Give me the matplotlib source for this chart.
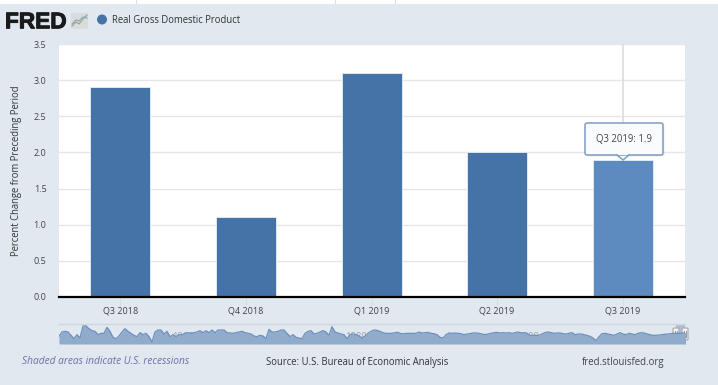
import matplotlib
matplotlib.use("Agg")
import matplotlib.pyplot as plt
import matplotlib.patheffects as pe
from matplotlib.patches import FancyBboxPatch, Polygon, Rectangle, Circle
import numpy as np

categories = ["Q3 2018", "Q4 2018", "Q1 2019", "Q2 2019", "Q3 2019"]
gdp_change = [2.9, 1.1, 3.1, 2.0, 1.9]
y_ticks = [0.0, 0.5, 1.0, 1.5, 2.0, 2.5, 3.0, 3.5]
series_name = "Real Gross Domestic Product"
y_title = "Percent Change from Preceding Period"

# overview strip (relative level, evenly spaced samples)
nav_1 = [23,36,38,36,26,16,28,18,54,54,46,40,38,28,32,32,50,38,20,16,24,36,46,38,32,26,22,34,28,32,22,6,36,42,42,30,38,22,28,22,28,28,32,34,32,34,36,40,34,40,34,42,34]
nav_2 = [42,42,42,34,33,32,34,36,38,34,32,30,24,22,26,24,16,44,36,36,38,42,42,32,22,28,20,18,16,32,38,40,30,32,36,40,36,26,52,36,33,30,28,16,28,30,28,24,18,24,32,38]
nav_3 = [42,41,38,34,32,32,32,34,35,31,31,32,32,32,32,36,33,34,35,32,31,28,20,18,28,33,32,33,32,31,28,30,31,33,33,32,30,28,30,32,34,35,33,34,33,34,32,34,36,33,34,32]
nav_4 = [26,26,26,26,30,34,36,34,32,33,33,31,30,32,34,28,30,30,28,26,23,18,10,22,31,32,30,28,26,30,34,30,28,32,30,28,32,34,33,30,28,26,26,27,28,29,30,31,32,32,32,33,34]
nav_years = ["1960", "1980", "2000"]

W, H = 718, 385
BG = "#e1e8f0"
BAR = "#4572a7"
HOVER = "#5d8abf"
plt.rcParams["font.family"] = ["Open Sans", "DejaVu Sans"]
px = 72 / 100
FS = 9.55 * px
TICK = 9.0 * px

fig = plt.figure(figsize=(W / 100, H / 100), dpi=100, facecolor=BG)

def box(x0, y0, x1, y1):
    return [x0 / W, 1 - y1 / H, (x1 - x0) / W, (y1 - y0) / H]

def P(x, y):
    return (x / W, 1 - y / H)

# white strip on top
fig.add_artist(Rectangle(P(0, 4), 1, 4 / H, transform=fig.transFigure, fc="white", ec="none"))
for xp in (136.5, 335.5, 395.5):
    fig.add_artist(Rectangle(P(xp - 0.5, 4), 1 / W, 4 / H, transform=fig.transFigure, fc="#d9e0e8", ec="none"))

# main plot
ax = fig.add_axes(box(59, 44, 685, 297))
ax.set_facecolor("white")
x = np.arange(len(categories))
colors = [BAR] * (len(x) - 1) + [HOVER]
ax.bar(x, gdp_change, width=0.478, color=colors, edgecolor="#e8eef6", linewidth=0.6, zorder=3)
ax.set_xlim(-0.4885, 4.496)
ax.set_ylim(0, 3.5)
ax.set_yticks(y_ticks)
ax.set_yticklabels([f"{v:.1f}" for v in y_ticks], fontsize=TICK, color="#444444")
ax.set_xticks(x)
ax.set_xticklabels(categories, fontsize=TICK, color="#444444")
ax.grid(axis="y", color="#e6e6e6", linewidth=1, zorder=0)
ax.tick_params(axis="y", length=0, pad=9)
ax.tick_params(axis="x", length=6, width=0.8, color="#d5dde8", pad=1)
for s in ("top", "left", "right"):
    ax.spines[s].set_visible(False)
ax.spines["bottom"].set_color("black")
ax.spines["bottom"].set_linewidth(1.6)
ax.spines["bottom"].set_zorder(5)
ax.axvline(x[-1], color="#dcdcdc", linewidth=1.2, zorder=2)

# y title
fig.text(16.5 / W, 1 - 170.5 / H, y_title, rotation=90, ha="center", va="center", fontsize=FS, color="#333333")

# FRED logo
fig.text(5 / W, 1 - 28.3 / H, "FRED", family="Liberation Sans", weight="bold", fontsize=16.3,
         color="#1a1a1a", ha="left", va="baseline",
         path_effects=[pe.withStroke(linewidth=0.7, foreground="#1a1a1a")])
fig.add_artist(FancyBboxPatch(P(71, 29), 17 / W, 16 / H, boxstyle="round,pad=0,rounding_size=0.002",
                              transform=fig.transFigure, fc="#d9dcdc", ec="none"))
fig.add_artist(plt.Line2D([72 / W, 76 / W, 79 / W, 83 / W, 87 / W], [1 - 26 / H, 1 - 22 / H, 1 - 24 / H, 1 - 19 / H, 1 - 15 / H],
                          transform=fig.transFigure, color="#8fa878", lw=0.8))
fig.add_artist(plt.Line2D([72 / W, 76 / W, 79 / W, 83 / W, 87 / W], [1 - 24 / H, 1 - 20 / H, 1 - 21 / H, 1 - 17 / H, 1 - 18 / H],
                          transform=fig.transFigure, color="#8aa2bd", lw=0.8))

# legend
leg = fig.add_axes([0, 0, 1, 1], facecolor="none")
leg.set_xlim(0, W); leg.set_ylim(H, 0); leg.axis("off")
leg.add_patch(Circle((102, 19.5), 5, fc=BAR, ec="none"))
leg.text(112.5, 20.5, series_name, fontsize=FS, color="#333333", ha="left", va="center")

# tooltip
tip_x, tip_top = 623, 160
leg.add_patch(FancyBboxPatch((586.5, 124.5), 78, 32, boxstyle="round,pad=0,rounding_size=2",
                             fc="#000000", ec="none", alpha=0.08))
leg.add_patch(FancyBboxPatch((585, 123), 78, 32, boxstyle="round,pad=0,rounding_size=2",
                             fc="#f9fbfd", ec="#7f9dc2", lw=1.1, zorder=3))
leg.add_patch(Polygon([(tip_x - 6, 155), (tip_x, tip_top), (tip_x + 6, 155)], closed=True,
                      fc="#f9fbfd", ec="#7f9dc2", lw=1.1, zorder=4))
leg.add_patch(Rectangle((tip_x - 5.2, 153.8), 10.4, 1.5, fc="#f9fbfd", ec="none", zorder=5))
leg.text(624, 139.5, f"{categories[-1]}: {gdp_change[-1]}", fontsize=FS, color="#444444",
         ha="center", va="center", zorder=6)

# overview strip
nav_values = nav_1 + nav_2 + nav_3 + nav_4
nav = fig.add_axes(box(59, 324, 685, 344), facecolor="none")
idx = np.arange(len(nav_values))
nav.fill_between(idx, nav_values, 0, color="#90abcc", lw=0, zorder=2)
nav.plot(idx, nav_values, color="#6a90bd", lw=0.9, zorder=3)
nav.set_xlim(0, 208.67)
nav.set_ylim(0, 60)
nav.set_xticks([]); nav.set_yticks([])
for s in ("left", "right", "bottom"):
    nav.spines[s].set_visible(False)
nav.spines["top"].set_color("#d0d6de")
nav.spines["top"].set_linewidth(1)
for label, xp in zip(nav_years, (183, 356, 528)):
    leg.text(xp, 338, label, fontsize=FS, color="#8a8f96", alpha=0.8, ha="center", va="center", zorder=6)
leg.add_patch(Rectangle((676, 324), 9, 20, fc="#6685c2", ec="none", alpha=0.4, zorder=6))
for hx in (676, 685):
    leg.add_patch(FancyBboxPatch((hx - 3, 328), 6, 12, boxstyle="round,pad=0,rounding_size=1",
                                 fc="#f2f2f2", ec="#a8a8a8", lw=0.8, zorder=7))
    leg.plot([hx - 0.8, hx - 0.8], [331, 337], color="#999999", lw=0.7, zorder=8)
    leg.plot([hx + 0.8, hx + 0.8], [331, 337], color="#999999", lw=0.7, zorder=8)

# footer
leg.text(22, 362, "Shaded areas indicate U.S. recessions", fontsize=10.1 * px, style="italic", color="#6a70a5", ha="left", va="center")
leg.text(266, 362, "Source: U.S. Bureau of Economic Analysis", fontsize=FS, color="#333333", ha="left", va="center")
leg.text(582, 362, "fred.stlouisfed.org", fontsize=9.7 * px, color="#444444", ha="left", va="center")

fig.savefig("out.png", dpi=100, facecolor=BG)
